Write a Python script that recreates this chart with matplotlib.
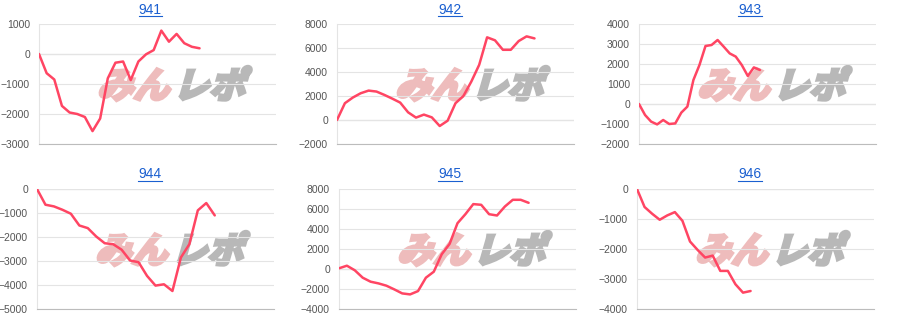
import numpy as np
import matplotlib
matplotlib.use("Agg")
import matplotlib.pyplot as plt
from matplotlib.textpath import TextPath
from matplotlib.patches import PathPatch
from matplotlib.font_manager import FontProperties
from matplotlib.transforms import Affine2D
from matplotlib.lines import Line2D

# machine numbers and their balance curves
titles = ["941", "942", "943", "944", "945", "946"]

vals_941 = [0, -640, -850, -1730, -1950, -2000, -2100, -2570, -2150, -810, -290,
            -250, -870, -250, -10, 130, 780, 410, 670, 360, 240, 190]
vals_942 = [0, 1400, 1870, 2230, 2450, 2370, 2090, 1780, 1450, 640, 200, 450, 220,
            -500, -60, 1400, 2000, 3200, 4600, 6890, 6640, 5850, 5850, 6580, 6970, 6800]
vals_943 = [0, -550, -880, -1020, -800, -1000, -970, -430, -130, 1200, 1950, 2900,
            2950, 3200, 2870, 2530, 2370, 1950, 1400, 1830, 1700]
vals_944 = [0, -655, -725, -865, -1030, -1520, -1630, -1980, -2260, -2300, -2530,
            -2980, -3050, -3620, -4025, -3970, -4250, -2855, -2300, -890, -585, -1100]
vals_945 = [70, 330, -130, -870, -1270, -1440, -1670, -2040, -2440, -2540, -2210,
            -870, -270, 1470, 2510, 4580, 5480, 6490, 6420, 5480, 5350, 6250, 6920,
            6920, 6620]
vals_946 = [0, -600, -825, -1025, -880, -770, -1060, -1750, -2030, -2285, -2220,
            -2730, -2730, -3175, -3455, -3400]

series = [vals_941, vals_942, vals_943, vals_944, vals_945, vals_946]
x_max = [31, 30, 39.2, 28, 30, 31.3]
y_ticks = [
    [-3000, -2000, -1000, 0, 1000],
    [-2000, 0, 2000, 4000, 6000, 8000],
    [-2000, -1000, 0, 1000, 2000, 3000, 4000],
    [-5000, -4000, -3000, -2000, -1000, 0],
    [-4000, -2000, 0, 2000, 4000, 6000, 8000],
    [-4000, -3000, -2000, -1000, 0],
]

W, H = 900, 330
fig = plt.figure(figsize=(9, 3.3), dpi=100)

lefts = [39, 337, 639, 37, 339, 637]
tops = [24, 24, 24, 189, 189, 189]
cell_x = [150, 450, 750, 150, 450, 750]
title_y = [9.5, 9.5, 9.5, 174.5, 174.5, 174.5]

wm_font = FontProperties(family="Noto Sans CJK JP", weight="bold")


def add_watermark(ax):
    # "みんレポ" logo behind the curve, slanted and thickened
    pos = ax.get_position()
    x0 = pos.x0 * W + 0.245 * pos.width * W
    y0 = pos.y0 * H + 0.385 * pos.height * H
    tp1 = TextPath((0, 0), "みん", size=36, prop=wm_font)
    tp2 = TextPath((0, 0), "レポ", size=36, prop=wm_font)
    skew = Affine2D().skew_deg(16, 0)
    p1 = PathPatch(tp1, transform=skew + Affine2D().translate(x0, y0),
                   facecolor="#eebcbc", edgecolor="#eebcbc", lw=2.6, zorder=1.5,
                   clip_on=False, joinstyle="miter")
    p2 = PathPatch(tp2, transform=skew + Affine2D().translate(x0 + 76, y0),
                   facecolor="#b8b8b8", edgecolor="#b8b8b8", lw=2.6, zorder=1.5,
                   clip_on=False, joinstyle="miter")
    ax.add_artist(p1)
    ax.add_artist(p2)


for i in range(6):
    ax = fig.add_axes([lefts[i] / W, 1 - (tops[i] + 120) / H, 237 / W, 120 / H])
    vals = series[i]
    ax.plot(np.arange(len(vals)), vals, color="#ff4563", lw=1.8, zorder=3,
            solid_joinstyle="round", solid_capstyle="round")
    ax.set_xlim(0, x_max[i])
    ax.set_ylim(y_ticks[i][0], y_ticks[i][-1])
    ax.set_yticks(y_ticks[i])
    ax.set_xticks([])
    ax.grid(axis="y", color="#e4e4e4", lw=0.8, zorder=0)
    ax.axhline(0, color="#bcbcbc", lw=0.8, zorder=1)
    for s in ["top", "right"]:
        ax.spines[s].set_visible(False)
    ax.spines["left"].set_color("#e4e4e4")
    ax.spines["left"].set_linewidth(0.8)
    ax.spines["bottom"].set_color("#bcbcbc")
    ax.spines["bottom"].set_linewidth(0.8)
    ax.tick_params(axis="y", length=0, pad=6.5, labelsize=7.5, labelcolor="#555555")
    for lab in ax.get_yticklabels():
        lab.set_fontfamily("Liberation Sans")
    add_watermark(ax)

    t = fig.text(cell_x[i] / W, 1 - title_y[i] / H, titles[i], ha="center", va="center",
                 color="#1a5fd0", fontsize=10, family="Liberation Sans")
    fig.canvas.draw()
    bb = t.get_window_extent()
    uy = (H - title_y[i] - 6) / H
    fig.add_artist(Line2D([bb.x0 / W, bb.x1 / W], [uy, uy], color="#1a5fd0", lw=0.8,
                          transform=fig.transFigure))

fig.savefig("out.png", dpi=100)
